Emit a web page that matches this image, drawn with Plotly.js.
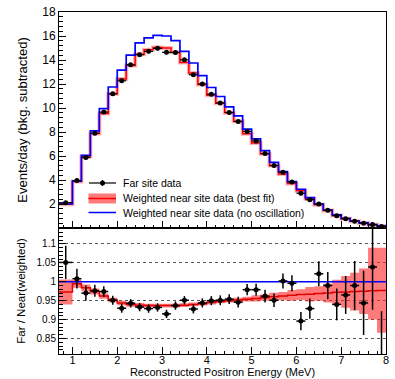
<!DOCTYPE html>
<html><head><meta charset="utf-8">
<script src="https://cdn.plot.ly/plotly-3.0.1.min.js"></script>
<style>html,body{margin:0;padding:0;background:#fff}#chart{width:395px;height:379px}</style>
</head><body><div id="chart"></div>
<script>
// Bin edges (MeV)
const binEdges = [0.7,1.0,1.2,1.4,1.6,1.8,2.0,2.2,2.4,2.6,2.8,3.0,3.2,3.4,3.6,3.8,4.0,4.2,4.4,4.6,4.8,5.0,5.2,5.4,5.6,5.8,6.0,6.2,6.4,6.6,6.8,7.0,7.2,7.4,7.6,7.8,8.0];
// Top panel: events/day
const farData = [2.11,3.95,5.87,7.90,9.66,11.18,12.27,13.60,14.44,14.72,14.97,14.64,14.62,14.02,12.77,12.00,11.15,10.42,9.63,8.87,8.05,7.25,6.20,5.20,4.65,3.83,2.90,2.36,2.00,1.48,1.03,0.78,0.57,0.40,0.29,0.12];
const farErr = [0.09,0.10,0.12,0.13,0.14,0.14,0.15,0.15,0.16,0.16,0.16,0.16,0.16,0.15,0.15,0.14,0.14,0.13,0.13,0.12,0.12,0.11,0.10,0.09,0.09,0.08,0.07,0.065,0.06,0.05,0.045,0.04,0.035,0.03,0.03,0.025];
const bestFit = [1.97,3.88,5.95,7.88,9.55,11.18,12.42,13.55,14.47,14.86,15.04,14.99,14.65,13.80,12.92,11.96,11.07,10.40,9.60,8.90,7.86,7.09,6.18,5.21,4.50,3.71,3.10,2.43,1.93,1.45,1.05,0.78,0.56,0.41,0.27,0.166];
const noOsc = [2.00,3.90,6.05,8.10,9.95,11.75,13.15,14.40,15.42,15.85,16.05,16.00,15.62,14.72,13.75,12.69,11.71,10.96,10.10,9.35,8.24,7.42,6.45,5.47,4.70,3.87,3.23,2.53,2.00,1.50,1.09,0.81,0.58,0.42,0.28,0.17];
// Bottom panel: Far / Near(weighted)
const ratio = [1.051,1.008,0.970,0.976,0.974,0.951,0.930,0.943,0.933,0.929,0.932,0.915,0.937,0.951,0.928,0.944,0.950,0.951,0.954,0.946,0.979,0.979,0.962,0.951,1.002,0.996,0.896,0.929,1.021,0.990,0.940,0.965,0.990,0.944,1.039,0.700];
const ratioErr = [0.044,0.026,0.020,0.016,0.014,0.012,0.012,0.011,0.011,0.011,0.011,0.011,0.011,0.011,0.012,0.012,0.012,0.013,0.013,0.014,0.015,0.016,0.017,0.018,0.020,0.021,0.024,0.027,0.033,0.036,0.042,0.050,0.065,0.085,0.113,0.222];
const fitRatio = [0.973,0.995,0.984,0.974,0.962,0.952,0.944,0.940,0.938,0.937,0.937,0.937,0.937,0.938,0.940,0.942,0.945,0.948,0.950,0.952,0.954,0.956,0.958,0.960,0.962,0.964,0.966,0.967,0.969,0.970,0.972,0.973,0.974,0.975,0.976,0.977];
const bandLow = [0.940,0.984,0.975,0.966,0.955,0.946,0.938,0.934,0.932,0.932,0.932,0.932,0.932,0.933,0.935,0.937,0.940,0.943,0.945,0.946,0.948,0.948,0.950,0.949,0.951,0.950,0.952,0.948,0.950,0.945,0.939,0.931,0.924,0.915,0.900,0.865];
const bandHigh = [1.006,1.005,0.993,0.982,0.969,0.958,0.950,0.946,0.944,0.942,0.942,0.942,0.942,0.943,0.945,0.947,0.950,0.953,0.955,0.958,0.960,0.964,0.966,0.971,0.973,0.978,0.980,0.986,0.988,0.995,1.005,1.015,1.024,1.035,1.090,1.090];
const noOscRatio = 1;

const legendLabels = ['Far site data','Weighted near site data (best fit)','Weighted near site data (no oscillation)'];
const xTitle = 'Reconstructed Positron Energy (MeV)';
const yTitleTop = 'Events/day (bkg. subtracted)';
const yTitleBottom = 'Far / Near(weighted)';

const centers = farData.map((_, i) => (binEdges[i] + binEdges[i+1]) / 2);
const halfW = farData.map((_, i) => (binEdges[i+1] - binEdges[i]) / 2);
const stepY = v => v.concat([v[v.length-1]]);

const RED = '#ff0000', BLUE = '#0000ff', BAND = 'rgba(255,40,40,0.62)';
const traces = [
  {x: binEdges, y: stepY(bestFit), xaxis:'x2', yaxis:'y2', mode:'lines', line:{shape:'hv', color:'rgba(255,0,0,0.3)', width:4}, hoverinfo:'skip'},
  {x: binEdges, y: stepY(bestFit), xaxis:'x2', yaxis:'y2', mode:'lines', line:{shape:'hv', color:RED, width:1.5}, name:legendLabels[1]},
  {x: binEdges, y: stepY(noOsc), xaxis:'x2', yaxis:'y2', mode:'lines', line:{shape:'hv', color:BLUE, width:1.7}, name:legendLabels[2]},
  {x: centers, y: farData, xaxis:'x2', yaxis:'y2', mode:'markers', marker:{color:'#000', size:5},
   error_x:{type:'data', array:halfW, width:0, thickness:1.2, color:'#000'},
   error_y:{type:'data', array:farErr, width:0, thickness:1.2, color:'#000'}, name:legendLabels[0]},
  {x: binEdges, y: stepY(bandLow), xaxis:'x', yaxis:'y', mode:'lines', line:{shape:'hv', width:0, color:BAND}, hoverinfo:'skip'},
  {x: binEdges, y: stepY(bandHigh), xaxis:'x', yaxis:'y', mode:'lines', fill:'tonexty', fillcolor:BAND, line:{shape:'hv', width:0, color:BAND}, hoverinfo:'skip'},
  {x: binEdges, y: stepY(fitRatio), xaxis:'x', yaxis:'y', mode:'lines', line:{shape:'hv', color:'#e00000', width:1.5}},
  {x: [binEdges[0], binEdges[binEdges.length-1]], y:[noOscRatio, noOscRatio], xaxis:'x', yaxis:'y', mode:'lines', line:{color:BLUE, width:1.5}},
  {x: centers, y: ratio, xaxis:'x', yaxis:'y', mode:'markers', marker:{color:'#000', size:5},
   error_x:{type:'data', array:halfW, width:0, thickness:1.5, color:'#000'},
   error_y:{type:'data', array:ratioErr, width:0, thickness:1.5, color:'#000'}}
];

const FONT = 'Liberation Sans, Arial, Helvetica, sans-serif';
// pixel helpers for the legend (plot area: x 59..386, y 12..354)
const px = v => (v - 59) / 327;
const py = v => (354 - v) / 342;

const axBase = {ticks:'inside', tickcolor:'#000', tickwidth:1, showline:true, linecolor:'#000', linewidth:1, mirror:true, zeroline:false, showgrid:false};
const layout = {
  width:395, height:379, margin:{l:59, r:9, t:12, b:25}, showlegend:false,
  paper_bgcolor:'#fff', plot_bgcolor:'#fff', font:{family:FONT, color:'#000'},
  xaxis: Object.assign({}, axBase, {domain:[0,1], anchor:'y', range:[0.7,8], tickmode:'linear', tick0:1, dtick:1, ticklen:7,
    minor:{tick0:0, dtick:0.2, ticks:'inside', ticklen:3.5, tickcolor:'#000', showgrid:false},
    ticklabelstandoff:-4,
    tickfont:{size:11}, title:{text:xTitle, font:{size:11}, standoff:1}}),
  yaxis: Object.assign({}, axBase, {domain:[0,0.3684], anchor:'x', range:[0.809,1.142],
    tickmode:'array', tickvals:[0.85,0.9,0.95,1,1.05,1.1], ticktext:['0.85','0.9','0.95','1','1.05','1.1'], ticklen:7,
    minor:{tick0:0.8, dtick:0.01, ticks:'inside', ticklen:3.5, tickcolor:'#000', showgrid:false},
    showgrid:true, gridcolor:'#555', griddash:'dot', gridwidth:1,
    tickfont:{size:10}, title:{text:yTitleBottom, font:{size:11.5}, standoff:8}}),
  xaxis2: Object.assign({}, axBase, {domain:[0,1], anchor:'y2', range:[0.7,8], matches:'x', tickmode:'linear', tick0:1, dtick:1, ticklen:7,
    minor:{tick0:0, dtick:0.2, ticks:'inside', ticklen:3.5, tickcolor:'#000', showgrid:false}, showticklabels:false}),
  yaxis2: Object.assign({}, axBase, {domain:[0.3684,1], anchor:'x2', range:[0,18],
    tickmode:'array', tickvals:[2,4,6,8,10,12,14,16,18], ticklen:7,
    minor:{tick0:0, dtick:0.4, ticks:'inside', ticklen:3.5, tickcolor:'#000', showgrid:false},
    tickfont:{size:12}, title:{text:yTitleTop, font:{size:13}, standoff:11}}),
  shapes: [
    {type:'line', xref:'paper', yref:'paper', x0:px(89), x1:px(116), y0:py(183), y1:py(183), line:{color:'#000', width:1.2}},
    {type:'line', xref:'paper', yref:'paper', x0:px(102.5), x1:px(102.5), y0:py(180), y1:py(186), line:{color:'#000', width:1.2}},
    {type:'circle', xref:'paper', yref:'paper', x0:px(100), x1:px(105), y0:py(180.5), y1:py(185.5), fillcolor:'#000', line:{color:'#000', width:0}},
    {type:'rect', xref:'paper', yref:'paper', x0:px(88.5), x1:px(116), y0:py(193.5), y1:py(203.5), fillcolor:BAND, line:{width:0}},
    {type:'line', xref:'paper', yref:'paper', x0:px(88.5), x1:px(116), y0:py(198.5), y1:py(198.5), line:{color:RED, width:1.5}},
    {type:'line', xref:'paper', yref:'paper', x0:px(88.5), x1:px(116), y0:py(212.5), y1:py(212.5), line:{color:BLUE, width:1.5}}
  ],
  annotations: legendLabels.map((t, i) => ({text:t, xref:'paper', yref:'paper', x:px(121), y:py([183,198.5,212.5][i]),
    xanchor:'left', yanchor:'middle', showarrow:false, font:{size:10.5, family:FONT, color:'#000'}}))
};
Plotly.newPlot('chart', traces, layout, {staticPlot:true, displayModeBar:false});
</script>
</body></html>
